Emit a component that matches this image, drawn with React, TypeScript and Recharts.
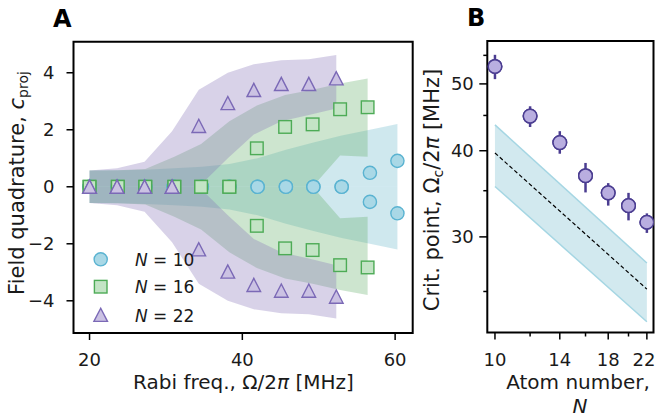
import React from 'react';
import { ComposedChart, Area, Scatter, XAxis, YAxis, ReferenceArea, Line, ErrorBar } from 'recharts';

// ---------------- Panel A data ----------------
const xN10 = [20.0, 23.7, 27.3, 31.0, 34.7, 38.3, 42.0, 45.7, 49.3, 53.0, 56.7, 60.3];
const yN10Up = [0, 0, 0, 0, 0, 0, 0, 0, 0, 0, 0.49, 0.91];
const yN10Dn = [0, 0, 0, 0, 0, 0, 0, 0, 0, 0, -0.53, -0.93];
const bandN10Outer = [0.57, 0.58, 0.6, 0.65, 0.7, 0.8, 1.0, 1.3, 1.55, 1.8, 2.0, 2.2];
const bandN10Inner = [0, 0, 0, 0, 0, 0, 0, 0, 0, 0, 0, 0];

const xN16 = [20.0, 23.7, 27.3, 31.1, 34.6, 38.3, 41.9, 45.6, 49.2, 52.8, 56.4];
const yN16Up = [0, 0, 0, 0, 0, 0, 1.35, 2.1, 2.19, 2.72, 2.79];
const yN16Dn = [0, 0, 0, 0, 0, 0, -1.37, -2.16, -2.22, -2.75, -2.83];
const bandN16Outer = [0.57, 0.58, 0.62, 1.05, 1.5, 2.3, 2.85, 3.22, 3.4, 3.62, 3.8];
const bandN16Inner = [0, 0, 0, 0, 0, 0, 0, 0, 0, 1.1, 1.05];

const xN22 = [20.0, 23.6, 27.2, 30.8, 34.3, 38.1, 41.5, 45.1, 48.7, 52.3];
const yN22Up = [0, 0, 0, 0, 2.13, 2.93, 3.39, 3.6, 3.6, 3.8];
const yN22Dn = [0, 0, 0, 0, -2.2, -2.98, -3.45, -3.65, -3.65, -3.86];
const bandN22Outer = [0.57, 0.65, 0.88, 1.95, 3.4, 4.0, 4.3, 4.44, 4.47, 4.62];
const bandN22Inner = [0, 0, 0, 0, 0, 1.0, 1.83, 2.3, 2.52, 2.75];

const xTicksA = [20, 40, 60];
const yTicksA = [-4, -2, 0, 2, 4];
const legendLabels = ['10', '16', '22'];

// ---------------- Panel B data ----------------
const atomN = [10, 12, 14, 16, 18, 20, 22];
const critPoint = [53.0, 44.9, 41.1, 36.8, 34.75, 33.3, 31.5];
const critLow = [50.8, 43.3, 39.6, 34.8, 33.3, 31.7, 30.4];
const critHigh = [55.1, 46.4, 42.7, 38.4, 35.9, 34.75, 32.45];
const theoryN = [10, 22];
const theoryMid = [39.7, 25.2];
const theoryLow = [35.5, 22.6];
const theoryHigh = [43.6, 27.5];
const xTicksB = [10, 12, 14, 16, 18, 20, 22];
const xTickLabelsB = [10, 14, 18, 22];
const yTicksB = [25, 30, 35, 40, 45, 50, 55];
const yTickLabelsB = [30, 40, 50];

// ---------------- styling ----------------
const FONT = "'DejaVu Sans', sans-serif";
const TXT = '#1a1a1a';
const C_BLUE = { band: '#69b7ca', fill: '#a9d8e6', edge: '#5ab3d1' };
const C_GREEN = { band: '#63ae69', fill: '#c3e4c5', edge: '#4dab56' };
const C_PURPLE = { band: '#8572b7', fill: '#cbc2e3', edge: '#7b69b6' };
const BAND_OP = 0.32;
const B_WIDTH = 236;

const pts = (xs: number[], ys: number[]) => xs.map((x, i) => ({ x, y: ys[i] }));
const bandUp = (xs: number[], inner: number[], outer: number[]) =>
  xs.map((x, i) => ({ x, lo: inner[i], hi: outer[i] }));
const bandDn = (xs: number[], inner: number[], outer: number[]) =>
  xs.map((x, i) => ({ x, lo: -outer[i], hi: -inner[i] }));

const fmt = (v: number) => (v < 0 ? `\u2212${-v}` : `${v}`);

const circleShape = (c: any) => (p: any) =>
  <circle cx={p.cx} cy={p.cy} r={6.6} fill={c.fill} stroke={c.edge} strokeWidth={1.4} />;
const squareShape = (c: any) => (p: any) =>
  <rect x={p.cx - 6.3} y={p.cy - 6.3} width={12.6} height={12.6} fill={c.fill} stroke={c.edge} strokeWidth={1.4} />;
const triShape = (c: any) => (p: any) =>
  <polygon points={`${p.cx},${p.cy - 6.8} ${p.cx - 6.8},${p.cy + 6.4} ${p.cx + 6.8},${p.cy + 6.4}`} fill={c.fill} stroke={c.edge} strokeWidth={1.4} strokeLinejoin="miter" />;

const XTickA = (props: any) => {
  const { x, y, payload } = props;
  return (
    <g>
      <line x1={x} y1={y} x2={x} y2={y + 7} stroke="#000" strokeWidth={1.5} />
      <text x={x} y={y + 33} textAnchor="middle" fontSize={18} fontFamily={FONT} fill={TXT}>{fmt(payload.value)}</text>
    </g>
  );
};
const YTickA = (props: any) => {
  const { x, y, payload } = props;
  return (
    <g>
      <line x1={x} y1={y} x2={x - 7} y2={y} stroke="#000" strokeWidth={1.5} />
      <text x={x - 19} y={y + 6.5} textAnchor="end" fontSize={18} fontFamily={FONT} fill={TXT}>{fmt(payload.value)}</text>
    </g>
  );
};
const XTickB = (props: any) => {
  const { x, y, payload } = props;
  const major = xTickLabelsB.includes(payload.value);
  const tx = Math.min(x, B_WIDTH - 12);
  return (
    <g>
      <line x1={x} y1={y} x2={x} y2={y + (major ? 7 : 4)} stroke="#000" strokeWidth={1.5} />
      {major && <text x={tx} y={y + 33} textAnchor="middle" fontSize={18} fontFamily={FONT} fill={TXT}>{payload.value}</text>}
    </g>
  );
};
const YTickB = (props: any) => {
  const { x, y, payload } = props;
  const major = yTickLabelsB.includes(payload.value);
  return (
    <g>
      <line x1={x} y1={y} x2={x - (major ? 8 : 4)} y2={y} stroke="#000" strokeWidth={1.5} />
      {major && <text x={x - 13.5} y={y + 6.5} textAnchor="end" fontSize={18} fontFamily={FONT} fill={TXT}>{payload.value}</text>}
    </g>
  );
};

const xDomA: [number, number] = [17.9, 62.3];
const yDomA: [number, number] = [-5.13, 5.09];
const xDomB: [number, number] = [9.61, 22.77];
const yDomB: [number, number] = [21.8, 57.7];

const bandSeries = [
  { key: 'n10', xs: xN10, inner: bandN10Inner, outer: bandN10Outer, c: C_BLUE },
  { key: 'n16', xs: xN16, inner: bandN16Inner, outer: bandN16Outer, c: C_GREEN },
  { key: 'n22', xs: xN22, inner: bandN22Inner, outer: bandN22Outer, c: C_PURPLE },
];

function PanelA() {
  return (
    <ComposedChart width={420} height={420} margin={{ top: 41.7, right: 7.3, left: 0, bottom: 57 }}>
      <XAxis type="number" dataKey="x" domain={xDomA} allowDataOverflow ticks={xTicksA}
        tickSize={0} tickMargin={0} axisLine={false} tickLine={false} tick={<XTickA />} height={30} />
      <YAxis type="number" domain={yDomA} allowDataOverflow ticks={yTicksA}
        tickSize={0} tickMargin={0} axisLine={false} tickLine={false} tick={<YTickA />} width={73.5} />
      {bandSeries.map((b) => (
        <Area key={b.key + 'u'} data={bandUp(b.xs, b.inner, b.outer)} dataKey={(d: any) => [d.lo, d.hi]}
          type="linear" fill={b.c.band} fillOpacity={BAND_OP} stroke="none" isAnimationActive={false} dot={false} activeDot={false} />
      ))}
      {bandSeries.map((b) => (
        <Area key={b.key + 'd'} data={bandDn(b.xs, b.inner, b.outer)} dataKey={(d: any) => [d.lo, d.hi]}
          type="linear" fill={b.c.band} fillOpacity={BAND_OP} stroke="none" isAnimationActive={false} dot={false} activeDot={false} />
      ))}
      <Scatter data={pts(xN10, yN10Up)} dataKey="y" shape={circleShape(C_BLUE)} isAnimationActive={false} />
      <Scatter data={pts(xN10, yN10Dn)} dataKey="y" shape={circleShape(C_BLUE)} isAnimationActive={false} />
      <Scatter data={pts(xN16, yN16Up)} dataKey="y" shape={squareShape(C_GREEN)} isAnimationActive={false} />
      <Scatter data={pts(xN16, yN16Dn)} dataKey="y" shape={squareShape(C_GREEN)} isAnimationActive={false} />
      <Scatter data={pts(xN22, yN22Up)} dataKey="y" shape={triShape(C_PURPLE)} isAnimationActive={false} />
      <Scatter data={pts(xN22, yN22Dn)} dataKey="y" shape={triShape(C_PURPLE)} isAnimationActive={false} />
      <ReferenceArea x1={xDomA[0]} x2={xDomA[1]} y1={yDomA[0]} y2={yDomA[1]} fill="none" fillOpacity={0}
        stroke="#000" strokeWidth={2} ifOverflow="visible" />
    </ComposedChart>
  );
}

const critData = atomN.map((n, i) => ({ x: n, y: critPoint[i], err: [critPoint[i] - critLow[i], critHigh[i] - critPoint[i]] }));
const theoryLine = theoryN.map((n, i) => ({ x: n, y: theoryMid[i] }));
const theoryBand = theoryN.map((n, i) => ({ x: n, lo: theoryLow[i], hi: theoryHigh[i] }));

const critMarker = (p: any) => <circle cx={p.cx} cy={p.cy} r={6.8} fill="#b9aee0" stroke="#4b3d91" strokeWidth={1.5} />;

function PanelB() {
  return (
    <ComposedChart width={B_WIDTH} height={420} margin={{ top: 41, right: 2.5, left: 0, bottom: 57.5 }}>
      <XAxis type="number" dataKey="x" scale="log" domain={xDomB} allowDataOverflow ticks={xTicksB}
        tickSize={0} tickMargin={0} axisLine={false} tickLine={false} tick={<XTickB />} height={30} interval={0} />
      <YAxis type="number" scale="log" domain={yDomB} allowDataOverflow ticks={yTicksB}
        tickSize={0} tickMargin={0} axisLine={false} tickLine={false} tick={<YTickB />} width={67.3} interval={0} />
      <Area data={theoryBand} dataKey={(d: any) => [d.lo, d.hi]} type="linear" fill={C_BLUE.band} fillOpacity={0.3}
        stroke="#a5d6e3" strokeWidth={1.5} isAnimationActive={false} dot={false} activeDot={false} />
      <Line data={theoryLine} dataKey="y" type="linear" stroke="#000" strokeWidth={1.2} strokeDasharray="4 2.5"
        dot={false} activeDot={false} isAnimationActive={false} />
      <Scatter data={critData} dataKey="y" isAnimationActive={false} shape={critMarker}>
        <ErrorBar dataKey="err" direction="y" width={0} stroke="#4b3d91" strokeWidth={2.5} isAnimationActive={false} />
      </Scatter>
      <Scatter data={critData} dataKey="y" isAnimationActive={false} shape={critMarker} />
      <ReferenceArea x1={xDomB[0]} x2={xDomB[1]} y1={yDomB[0]} y2={yDomB[1]} fill="none" fillOpacity={0}
        stroke="#000" strokeWidth={2} ifOverflow="visible" />
    </ComposedChart>
  );
}

function Overlay() {
  const legendCols = [C_BLUE, C_GREEN, C_PURPLE];
  const legendY = [259.3, 286.7, 315];
  const shapes = [circleShape, squareShape, triShape];
  return (
    <svg width={656} height={420} style={{ position: 'absolute', left: 0, top: 0, pointerEvents: 'none' }} fontFamily={FONT}>
      <text x={53} y={27} fontSize={24} fontWeight="bold" fill="#000">A</text>
      <text x={467} y={26} fontSize={24} fontWeight="bold" fill="#000">B</text>
      {legendLabels.map((lab, i) => (
        <g key={lab}>
          {shapes[i](legendCols[i])({ cx: 100.7, cy: legendY[i] })}
          <text x={135} y={legendY[i] + 6.5} fontSize={17} fill={TXT}>
            <tspan fontStyle="italic">N</tspan> = {lab}
          </text>
        </g>
      ))}
      <text x={243.5} y={389} textAnchor="middle" fontSize={20} fill={TXT}>
        Rabi freq., Ω/2<tspan fontStyle="italic">π</tspan> [MHz]
      </text>
      <text transform="translate(24,183) rotate(-90)" textAnchor="middle" fontSize={21} fill={TXT}>
        Field quadrature, <tspan fontStyle="italic">c</tspan><tspan fontSize={14} dy={4}>proj</tspan>
      </text>
      <text x={578} y={389} textAnchor="middle" fontSize={20} fill={TXT}>Atom number,</text>
      <text x={580} y={413} textAnchor="middle" fontSize={20} fill={TXT} fontStyle="italic">N</text>
      <text transform="translate(439,190) rotate(-90)" textAnchor="middle" fontSize={21} fill={TXT}>
        Crit. point, Ω<tspan fontSize={14} dy={4}>c</tspan><tspan dy={-4}>/2</tspan><tspan fontStyle="italic">π</tspan> [MHz]
      </text>
    </svg>
  );
}

export default function App() {
  return (
    <div style={{ position: 'absolute', left: 0, top: 0, width: 656, height: 420, background: '#fff', overflow: 'hidden', fontFamily: FONT }}>
      <div style={{ position: 'absolute', left: 0, top: 0 }}>
        <PanelA />
      </div>
      <div style={{ position: 'absolute', left: 420, top: 0 }}>
        <PanelB />
      </div>
      <Overlay />
    </div>
  );
}
